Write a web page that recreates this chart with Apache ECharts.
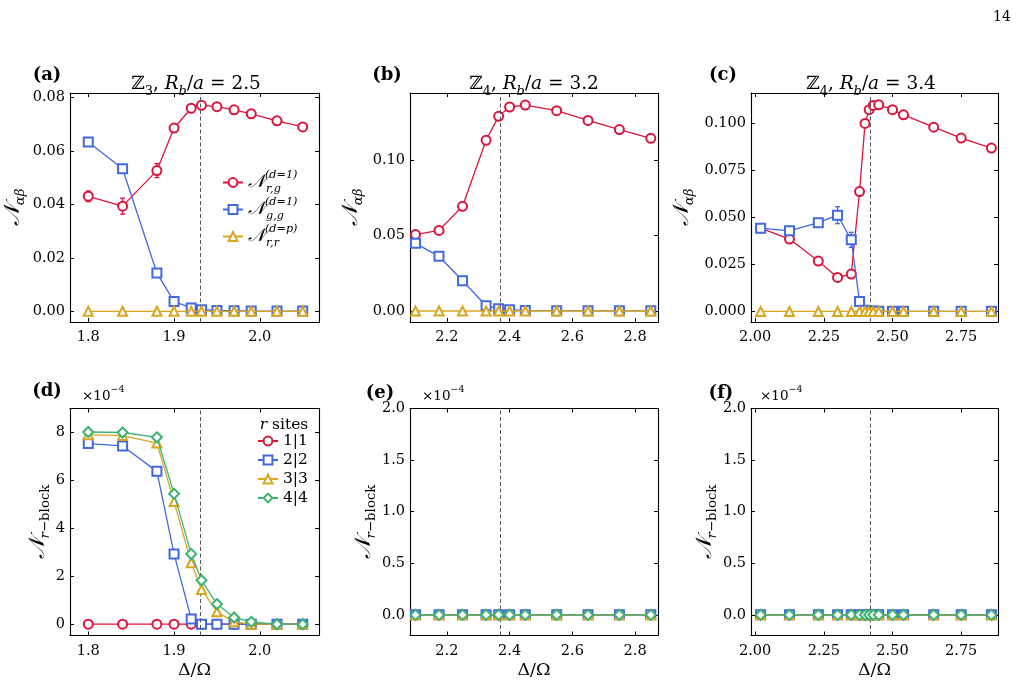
<!DOCTYPE html>
<html><head><meta charset="utf-8">
<script src="https://cdn.jsdelivr.net/npm/echarts@6/dist/echarts.min.js"></script>
<style>html,body{margin:0;padding:0;background:#fff}#c{width:1017px;height:688px}</style>
</head><body><div id="c"></div>
<script>
// ---------------- data ----------------
// panel (a): Z3, Rb/a = 2.5
const xA = [1.80, 1.84, 1.88, 1.90, 1.92, 1.932, 1.95, 1.97, 1.99, 2.02, 2.05];
const aRed = [0.0430, 0.0393, 0.0526, 0.0685, 0.0759, 0.0770, 0.0765, 0.0753, 0.0738, 0.0712, 0.0689];
const aRedErr = [0.0020, 0.0030, 0.0026, 0.0008, 0.0006, 0.0005, 0.0004, 0.0004, 0.0003, 0.0003, 0.0003];
const aBlue = [0.0633, 0.0533, 0.0143, 0.0037, 0.0012, 0.0006, 0.0003, 0.0002, 0.0001, 0.0001, 0.0001];
const aBlueErr = [0.0005, 0.0005, 0.0005, 0.0004, 0.0002, 0.0001, 0.0001, 0.0001, 0.0001, 0.0001, 0.0001];
const aYellow = [0, 0, 0, 0, 0, 0, 0, 0, 0, 0, 0];
// panel (b): Z4, Rb/a = 3.2
const xB = [2.10, 2.175, 2.25, 2.325, 2.365, 2.40, 2.45, 2.55, 2.65, 2.75, 2.85];
const bRed = [0.0507, 0.0535, 0.0695, 0.1133, 0.1292, 0.1354, 0.1367, 0.1330, 0.1265, 0.1204, 0.1146];
const bBlue = [0.0449, 0.0363, 0.0201, 0.0035, 0.0015, 0.0009, 0.0003, 0.0002, 0.0001, 0.0001, 0.0001];
const bYellow = [0, 0, 0, 0, 0, 0, 0, 0, 0, 0, 0];
// panel (c): Z4, Rb/a = 3.4
const xC = [2.02, 2.125, 2.23, 2.30, 2.35, 2.38, 2.40, 2.415, 2.43, 2.45, 2.50, 2.54, 2.65, 2.75, 2.86];
const cRed = [0.0443, 0.0385, 0.0268, 0.0181, 0.0199, 0.0638, 0.1000, 0.1073, 0.1096, 0.1099, 0.1073, 0.1046, 0.0980, 0.0922, 0.0869];
const cRedErr = [0.0005, 0.0006, 0.0008, 0.0012, 0.0022, 0.0022, 0.0010, 0.0008, 0.0006, 0.0005, 0.0004, 0.0004, 0.0004, 0.0003, 0.0003];
const cBlue = [0.0443, 0.0429, 0.0472, 0.0512, 0.0381, 0.0053, 0.0006, 0.0003, 0.0002, 0.0001, 0.0001, 0.0001, 0.0001, 0.0001, 0.0001];
const cBlueErr = [0.0006, 0.0008, 0.0010, 0.0045, 0.0040, 0.0010, 0.0003, 0.0002, 0.0001, 0.0001, 0.0001, 0.0001, 0.0001, 0.0001, 0.0001];
const cYellow = [0, 0, 0, 0, 0, 0, 0, 0, 0, 0, 0, 0, 0, 0, 0];
// panel (d): r-block negativity (units of 1e-4), same Delta as (a)
const dR11 = [0, 0, 0, 0, 0, 0, 0, 0, 0, 0, 0];
const dR22 = [7.53, 7.43, 6.37, 2.93, 0.22, 0, 0, 0, 0, 0, 0];
const dR33 = [7.90, 7.86, 7.55, 5.11, 2.56, 1.45, 0.52, 0.10, 0.0, 0.0, 0.0];
const dR44 = [8.01, 7.99, 7.79, 5.44, 2.93, 1.83, 0.84, 0.28, 0.10, 0.0, 0.0];
// panel (e): same Delta as (b)
const eR11 = [0, 0, 0, 0, 0, 0, 0, 0, 0, 0, 0];
const eR22 = [0, 0, 0, 0, 0, 0, 0, 0, 0, 0, 0];
const eR33 = [0, 0, 0, 0, 0, 0, 0, 0, 0, 0, 0];
const eR44 = [0, 0, 0, 0, 0, 0, 0, 0, 0, 0, 0];
// panel (f): same Delta as (c)
const fR11 = [0, 0, 0, 0, 0, 0, 0, 0, 0, 0, 0, 0, 0, 0, 0];
const fR22 = [0, 0, 0, 0, 0, 0, 0, 0, 0, 0, 0, 0, 0, 0, 0];
const fR33 = [0, 0, 0, 0, 0, 0, 0, 0, 0, 0, 0, 0, 0, 0, 0];
const fR44 = [0, 0, 0, 0, 0, 0, 0, 0, 0, 0, 0, 0, 0, 0, 0];
// critical points (dashed lines)
const vlineA = 1.932, vlineB = 2.365, vlineC = 2.416;
// tick labels
const ticksXA = [1.8, 1.9, 2.0];
const ticksXB = [2.2, 2.4, 2.6, 2.8];
const ticksXC = [2.00, 2.25, 2.50, 2.75];
const ticksYA = [0, 0.02, 0.04, 0.06, 0.08];
const ticksYB = [0, 0.05, 0.10];
const ticksYC = [0, 0.025, 0.05, 0.075, 0.1];
const ticksYD = [0, 2, 4, 6, 8];
const ticksYEF = [0, 0.5, 1.0, 1.5, 2.0];

// ---------------- style / layout ----------------
const F = 'DejaVu Serif';
const RED = '#dc143c', BLUE = '#4169e1', GOLD = '#daa520', GREEN = '#3cb371';
const GL = [70, 410, 751], GW = [249, 248, 247], GT = [93, 408.5], GH = [229, 227];

function rich(fs, nAdd) {
  const s = fs * 0.7;
  const na = nAdd == null ? 2 : nAdd;
  return {
    m: {fontFamily: F, fontSize: fs, color: '#000', fill: '#000', lineHeight: fs + 9},
    i: {fontFamily: F, fontSize: fs, fontStyle: 'italic', color: '#000', fill: '#000', lineHeight: fs + 9},
    n: {fontFamily: F, fontSize: fs + na, fontStyle: 'italic', color: '#000', fill: '#000', lineHeight: fs + 9},
    sb: {fontFamily: F, fontSize: s, color: '#000', fill: '#000', verticalAlign: 'bottom', lineHeight: s + 2},
    isb: {fontFamily: F, fontSize: s, fontStyle: 'italic', color: '#000', fill: '#000', verticalAlign: 'bottom', lineHeight: s + 2},
    sp: {fontFamily: F, fontSize: s, color: '#000', fill: '#000', verticalAlign: 'top', lineHeight: s + 2},
    isp: {fontFamily: F, fontSize: s, fontStyle: 'italic', color: '#000', fill: '#000', verticalAlign: 'top', lineHeight: s + 2},
    spw: {fontFamily: F, fontSize: s, fontStyle: 'italic', color: '#000', fill: '#000', verticalAlign: 'top', lineHeight: s + 2, width: 1}
  };
}

const grids = [], xAxes = [], yAxes = [];
for (let i = 0; i < 6; i++) {
  const r = i < 3 ? 0 : 1, c = i % 3;
  grids.push({left: GL[c], top: GT[r], width: GW[c], height: GH[r], containLabel: false});
}
function frameLine() { return {show: true, onZero: false, lineStyle: {color: '#000', width: 1.1}}; }
function tick(vals) { return {show: true, inside: true, length: 4, customValues: vals, lineStyle: {color: '#000', width: 1}}; }
function addX(gi, min, max, ticks, dec, withName) {
  xAxes.push({type: 'value', gridIndex: gi, position: 'bottom', min, max, splitLine: {show: false},
    axisLine: frameLine(), axisTick: tick(ticks),
    axisLabel: {show: true, customValues: ticks, formatter: v => v.toFixed(dec), margin: 8, color: '#000', fontFamily: F, fontSize: 14.5},
    name: withName ? 'Δ/Ω' : '', nameLocation: 'middle', nameGap: 15,
    nameTextStyle: {fontFamily: F, fontSize: 17.5, color: '#000', lineHeight: 22}});
  xAxes.push({type: 'value', gridIndex: gi, position: 'top', min, max, splitLine: {show: false},
    axisLine: frameLine(), axisTick: tick(ticks), axisLabel: {show: false}});
}
function addY(gi, min, max, ticks, dec, name, gap) {
  yAxes.push({type: 'value', gridIndex: gi, position: 'left', min, max, splitLine: {show: false},
    axisLine: frameLine(), axisTick: tick(ticks),
    axisLabel: {show: true, customValues: ticks, formatter: v => v.toFixed(dec), margin: 5, color: '#000', fontFamily: F, fontSize: 14.5},
    name, nameLocation: 'middle', nameGap: gap, nameRotate: 90,
    nameTextStyle: {fontFamily: F, fontSize: 19, color: '#000', rich: rich(19, 3)}});
  yAxes.push({type: 'value', gridIndex: gi, position: 'right', min, max, splitLine: {show: false},
    axisLine: frameLine(), axisTick: tick(ticks), axisLabel: {show: false}});
}
const nameTop = '{n|𝒩}{isb|αβ}';
const nameBot = '{n|𝒩}{isb|r}{sb|−block}';
addX(0, 1.7787, 2.069, ticksXA, 1, false); addY(0, -0.004, 0.0816, ticksYA, 2, nameTop, 43);
addX(1, 2.0825, 2.873, ticksXB, 1, false); addY(1, -0.0073, 0.1447, ticksYB, 2, nameTop, 45);
addX(2, 1.985, 2.884, ticksXC, 2, false); addY(2, -0.0056, 0.1162, ticksYC, 3, nameTop, 55);
addX(3, 1.7787, 2.069, ticksXA, 1, true); addY(3, -0.47, 8.99, ticksYD, 0, nameBot, 12);
addX(4, 2.0825, 2.873, ticksXB, 1, true); addY(4, -0.2, 2.0, ticksYEF, 1, nameBot, 10);
addX(5, 1.985, 2.884, ticksXC, 2, true); addY(5, -0.2, 2.0, ticksYEF, 1, nameBot, 29);

const series = [];
function vline(x) {
  return {silent: true, symbol: ['none', 'none'], label: {show: false}, animation: false,
    lineStyle: {type: [4, 2.5], color: '#555', width: 1}, data: [{xAxis: x}]};
}
function line(name, gi, xs, ys, color, symbol, z, vl) {
  const s = {type: 'line', name, xAxisIndex: 2 * gi, yAxisIndex: 2 * gi,
    data: xs.map((x, k) => [x, ys[k]]), symbol, symbolSize: symbol === 'emptyDiamond' ? 10 : 9,
    showSymbol: true, lineStyle: {color, width: 1.3}, itemStyle: {color, borderColor: color, borderWidth: 1.3},
    z, animation: false, emphasis: {disabled: true}};
  if (vl != null) s.markLine = vline(vl);
  series.push(s);
}
function errs(gi, xs, ys, es, color, z) {
  series.push({type: 'custom', xAxisIndex: 2 * gi, yAxisIndex: 2 * gi, z, silent: true, animation: false,
    data: xs.map((x, k) => [x, ys[k], es[k]]), encode: {x: 0, y: 1},
    renderItem: (p, api) => {
      const x = api.value(0), y = api.value(1), e = api.value(2);
      const p1 = api.coord([x, y - e]), p2 = api.coord([x, y + e]);
      const st = {stroke: color, lineWidth: 1.3};
      return {type: 'group', children: [
        {type: 'line', shape: {x1: p1[0], y1: p1[1], x2: p2[0], y2: p2[1]}, style: st},
        {type: 'line', shape: {x1: p1[0] - 2.5, y1: p1[1], x2: p1[0] + 2.5, y2: p1[1]}, style: st},
        {type: 'line', shape: {x1: p2[0] - 2.5, y1: p2[1], x2: p2[0] + 2.5, y2: p2[1]}, style: st}
      ]};
    }});
}
// (a)
errs(0, xA, aRed, aRedErr, RED, 2); errs(0, xA, aBlue, aBlueErr, BLUE, 2);
line('aR', 0, xA, aRed, RED, 'emptyCircle', 3, vlineA);
line('aB', 0, xA, aBlue, BLUE, 'emptyRect', 4);
line('aY', 0, xA, aYellow, GOLD, 'emptyTriangle', 5);
// (b)
line('bR', 1, xB, bRed, RED, 'emptyCircle', 3, vlineB);
line('bB', 1, xB, bBlue, BLUE, 'emptyRect', 4);
line('bY', 1, xB, bYellow, GOLD, 'emptyTriangle', 5);
// (c)
errs(2, xC, cRed, cRedErr, RED, 2); errs(2, xC, cBlue, cBlueErr, BLUE, 2);
line('cR', 2, xC, cRed, RED, 'emptyCircle', 3, vlineC);
line('cB', 2, xC, cBlue, BLUE, 'emptyRect', 4);
line('cY', 2, xC, cYellow, GOLD, 'emptyTriangle', 5);
// (d)
line('dR', 3, xA, dR11, RED, 'emptyCircle', 3, vlineA);
line('dB', 3, xA, dR22, BLUE, 'emptyRect', 4);
line('dY', 3, xA, dR33, GOLD, 'emptyTriangle', 5);
line('dG', 3, xA, dR44, GREEN, 'emptyDiamond', 6);
// (e)
line('eR', 4, xB, eR11, RED, 'emptyCircle', 3, vlineB);
line('eB', 4, xB, eR22, BLUE, 'emptyRect', 4);
line('eY', 4, xB, eR33, GOLD, 'emptyTriangle', 5);
line('eG', 4, xB, eR44, GREEN, 'emptyDiamond', 6);
// (f)
line('fR', 5, xC, fR11, RED, 'emptyCircle', 3, vlineC);
line('fB', 5, xC, fR22, BLUE, 'emptyRect', 4);
line('fY', 5, xC, fR33, GOLD, 'emptyTriangle', 5);
line('fG', 5, xC, fR44, GREEN, 'emptyDiamond', 6);

const LEG = {
  aR: '{n|𝒩}{spw|(d=1)}{isb|r,g}', aB: '{n|𝒩}{spw|(d=1)}{isb|g,g}', aY: '{n|𝒩}{spw|(d=p)}{isb|r,r}',
  dR: '1|1', dB: '2|2', dY: '3|3', dG: '4|4'
};

function gtext(x, y, text, opts) {
  return Object.assign({type: 'text', x, y, silent: true,
    style: Object.assign({text, fontFamily: F, fontSize: 15, fill: '#000', textAlign: 'center', textVerticalAlign: 'middle', align: 'center', verticalAlign: 'middle'}, opts || {})});
}
const titleTxt = (z, rb) => '{m|ℤ}{sb|' + z + '}{m|, }{i|R}{isb|b}{m|/}{i|a}{m| = ' + rb + '}';
const x10 = '{m|×10}{sp|−4}';
const graphics = [
  gtext(1002, 17, '14', {fontSize: 14}),
  gtext(47, 75, '(a)', {fontSize: 18, fontWeight: 'bold'}),
  gtext(387, 75, '(b)', {fontSize: 18, fontWeight: 'bold'}),
  gtext(723, 75, '(c)', {fontSize: 18, fontWeight: 'bold'}),
  gtext(47, 391, '(d)', {fontSize: 18, fontWeight: 'bold'}),
  gtext(380, 393, '(e)', {fontSize: 18, fontWeight: 'bold'}),
  gtext(721, 393, '(f)', {fontSize: 18, fontWeight: 'bold'}),
  gtext(196, 84, titleTxt('3', '2.5'), {rich: rich(18.5)}),
  gtext(534, 84, titleTxt('4', '3.2'), {rich: rich(18.5)}),
  gtext(871, 84, titleTxt('4', '3.4'), {rich: rich(18.5)}),
  gtext(82, 396, x10, {rich: rich(13.5), textAlign: 'left', align: 'left'}),
  gtext(422, 396, x10, {rich: rich(13.5), textAlign: 'left', align: 'left'}),
  gtext(760, 396, x10, {rich: rich(13.5), textAlign: 'left', align: 'left'}),
  gtext(284, 425, '{i|r}{m| sites}', {rich: rich(15.5)})
];

const chart = echarts.init(document.getElementById('c'), null, {renderer: 'canvas'});
chart.setOption({
  backgroundColor: '#fff',
  animation: false,
  grid: grids, xAxis: xAxes, yAxis: yAxes, series,
  legend: [
    {data: ['aR', 'aB', 'aY'], orient: 'vertical', left: 222, top: 170, padding: 0, itemWidth: 20, itemHeight: 11, itemGap: 2,
      selectedMode: false, formatter: n => LEG[n], textStyle: {fontFamily: F, fontSize: 16, color: '#000', rich: rich(16)}},
    {data: ['dR', 'dB', 'dY', 'dG'], orient: 'vertical', left: 257, top: 433, padding: 0, itemWidth: 20, itemHeight: 11, itemGap: 3,
      selectedMode: false, formatter: n => LEG[n], textStyle: {fontFamily: F, fontSize: 15.5, color: '#000'}}
  ],
  graphic: graphics
});
</script></body></html>
